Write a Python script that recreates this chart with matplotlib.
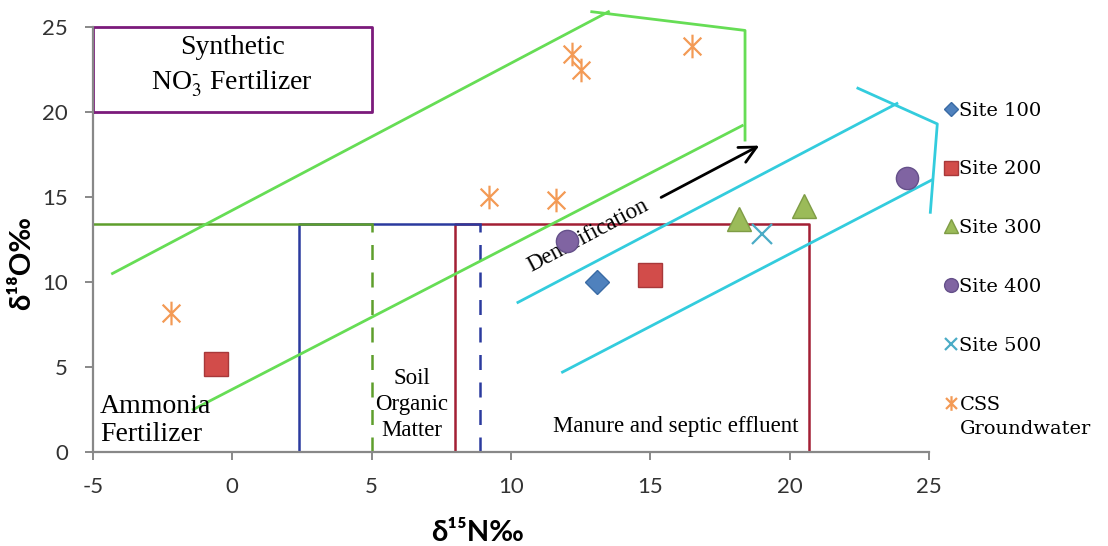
import matplotlib.pyplot as plt
from matplotlib.path import Path

plt.rcParams['mathtext.fontset'] = 'stix'
plt.rcParams['axes.unicode_minus'] = False

# measured isotope values, x = d15N, y = d18O
site100_n = [13.1]
site100_o = [10.0]
site200_n = [-0.6, 15.0]
site200_o = [5.2, 10.4]
site300_n = [18.2, 20.5]
site300_o = [13.7, 14.5]
site400_n = [12.0, 24.2]
site400_o = [12.4, 16.1]
site500_n = [19.0]
site500_o = [12.8]
css_n = [-2.2, 9.2, 11.6, 12.2, 12.5, 16.5]
css_o = [8.2, 15.0, 14.8, 23.4, 22.5, 23.9]

# source fields
nitrate_box_n = [-5, 5, 5, -5, -5]
nitrate_box_o = [20, 20, 25, 25, 20]
source_top = 13.4
ammonia_n = [-5, 5]
soil_n = [2.4, 8.9]
manure_n = [8.0, 20.7]

# denitrification envelopes
green_upper_n = [-4.3, 13.5]
green_upper_o = [10.5, 25.9]
green_head_n = [12.9, 18.4, 18.4]
green_head_o = [25.9, 24.8, 18.35]
green_lower_n = [-1.4, 18.3]
green_lower_o = [2.5, 19.2]
cyan_upper_n = [10.25, 23.85]
cyan_upper_o = [8.8, 20.5]
cyan_head_n = [22.45, 25.3, 25.05]
cyan_head_o = [21.4, 19.3, 14.1]
cyan_lower_n = [11.85, 25.1]
cyan_lower_o = [4.7, 16.0]

serif = 'Liberation Serif'
sans = ['Lato', 'DejaVu Sans']

# asterisk: vertical bar crossed by an X
star = Path([(0, -1), (0, 1), (-0.75, -0.75), (0.75, 0.75),
             (-0.75, 0.75), (0.75, -0.75)],
            [Path.MOVETO, Path.LINETO, Path.MOVETO, Path.LINETO,
             Path.MOVETO, Path.LINETO])

fig = plt.figure(figsize=(11.08, 5.46), dpi=100)
ax = fig.add_axes([0.0839, 0.1722, 0.7545, 0.7783])
ax.set_xlim(-5, 25)
ax.set_ylim(0, 25)

# source boxes
ax.plot(nitrate_box_n, nitrate_box_o, color='#7B1A7B', lw=2, clip_on=False)
ax.plot([manure_n[0], manure_n[0], manure_n[1], manure_n[1]],
        [0, source_top, source_top, 0], color='#A31F34', lw=1.8)
ax.plot([soil_n[0], soil_n[0], soil_n[1]], [0, source_top, source_top],
        color='#2B3A9E', lw=1.8)
ax.plot([soil_n[1], soil_n[1]], [0, source_top], color='#2B3A9E', lw=1.8,
        ls=(0, (6, 5)))
ax.plot(ammonia_n, [source_top, source_top], color='#5E9E2C', lw=1.8)
ax.plot([ammonia_n[1], ammonia_n[1]], [0, source_top], color='#5E9E2C',
        lw=1.8, ls=(0, (6, 5)))

# envelopes
green = '#66DD55'
cyan = '#33CCDD'
for xs, ys in [(green_upper_n, green_upper_o), (green_head_n, green_head_o),
               (green_lower_n, green_lower_o)]:
    ax.plot(xs, ys, color=green, lw=2, clip_on=False)
for xs, ys in [(cyan_upper_n, cyan_upper_o), (cyan_head_n, cyan_head_o),
               (cyan_lower_n, cyan_lower_o)]:
    ax.plot(xs, ys, color=cyan, lw=2, clip_on=False)

ax.annotate('', xy=(19.0, 18.1), xytext=(15.3, 14.9),
            arrowprops=dict(arrowstyle='->', color='black', lw=2,
                            mutation_scale=30))

# samples
ax.plot(site100_n, site100_o, ls='none', marker='D', ms=12,
        mfc='#4F81BD', mec='#3A6BA5', label='Site 100', zorder=5)
ax.plot(site200_n, site200_o, ls='none', marker='s', ms=17,
        mfc='#D24C4A', mec='#A8383A', label='Site 200', zorder=5)
ax.plot(site300_n, site300_o, ls='none', marker='^', ms=17,
        mfc='#9BBB59', mec='#7E9C45', label='Site 300', zorder=5)
ax.plot(site400_n, site400_o, ls='none', marker='o', ms=16,
        mfc='#8064A2', mec='#65508A', label='Site 400', zorder=5)
ax.plot(site500_n, site500_o, ls='none', marker='x', ms=14, mew=1.6,
        color='#4BACC6', label='Site 500', zorder=5)
ax.plot(css_n, css_o, ls='none', marker=star, ms=17, mew=1.6,
        color='#F39A55', label='CSS', zorder=5)

# labels
ax.text(0, 22.65, 'Synthetic\nNO$_3^{\\text{-}}$ Fertilizer', ha='center',
        va='center', family=serif, fontsize=20, linespacing=1.45)
ax.text(-4.75, 1.85, 'Ammonia\nFertilizer', ha='left', va='center',
        family=serif, fontsize=20, linespacing=1.15)
ax.text(6.45, 2.8, 'Soil\nOrganic\nMatter', ha='center', va='center',
        family=serif, fontsize=16.5, linespacing=1.3)
ax.text(15.9, 1.5, 'Manure and septic effluent', ha='center', va='center',
        family=serif, fontsize=16.5)
ax.text(12.75, 12.75, 'Denitrification', ha='center', va='center',
        family=serif, fontsize=16.5, rotation=28)

# axes styling
for side in ['top', 'right']:
    ax.spines[side].set_visible(False)
for side in ['left', 'bottom']:
    ax.spines[side].set_color('#888888')
    ax.spines[side].set_linewidth(1.6)
ax.set_xticks(range(-5, 26, 5))
ax.set_yticks(range(0, 26, 5))
ax.tick_params(length=6, width=1.4, color='#888888', pad=12,
               labelsize=16, labelcolor='#333333')
for lab in ax.get_xticklabels() + ax.get_yticklabels():
    lab.set_family(sans)
ax.set_xlabel('δ¹⁵N‰', family=sans, fontsize=21, fontweight='bold')
ax.set_ylabel('δ¹⁸O‰', family=sans, fontsize=21, fontweight='bold')
ax.xaxis.set_label_coords(0.46, -0.16)
ax.yaxis.set_label_coords(-0.069, 0.445)

leg = ax.legend(loc='upper left', bbox_to_anchor=(0.837, 0.846),
                bbox_transform=fig.transFigure, frameon=False,
                markerscale=0.62, handlelength=0.6, handletextpad=0.15,
                labelspacing=2.1, prop={'family': 'DejaVu Serif', 'size': 14})

fig.canvas.draw()
css_box = leg.get_texts()[-1].get_window_extent().transformed(
    fig.transFigure.inverted())
fig.text(css_box.x0, css_box.y0 - 0.012, 'Groundwater', ha='left', va='top',
         family='DejaVu Serif', fontsize=14)

fig.savefig('out.png', dpi=100)
